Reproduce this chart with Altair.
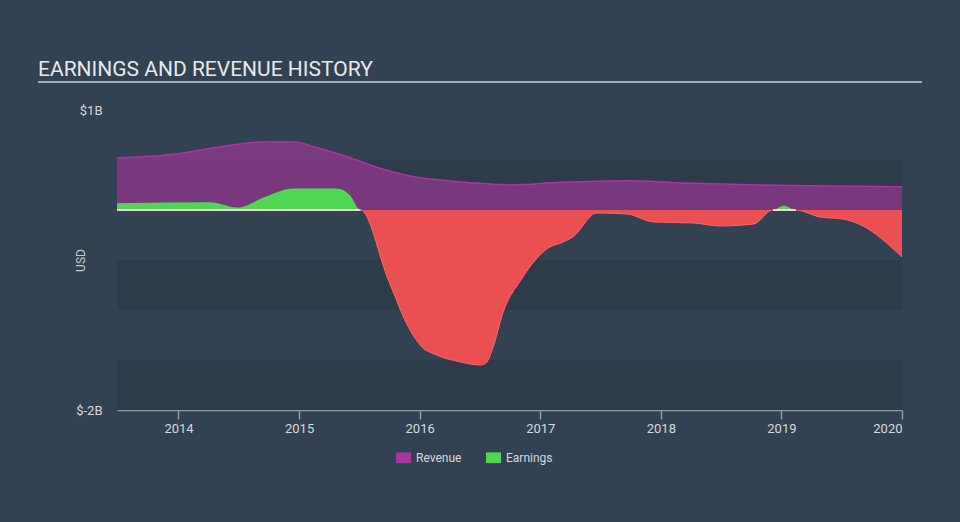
import altair as alt
import pandas as pd

# ---- data (values in $B, x in decimal years) ----
rev_year = [2013.49, 2014.01, 2014.32, 2014.74, 2014.95, 2015.12, 2015.40, 2015.67,
            2015.95, 2016.23, 2016.50, 2016.75, 2017.17, 2017.72, 2018.27, 2018.83,
            2019.38, 2020.0]
rev_val = [0.52, 0.565, 0.627, 0.683, 0.683, 0.633, 0.533, 0.417,
           0.333, 0.293, 0.267, 0.25, 0.277, 0.293, 0.267, 0.25,
           0.24, 0.233]

earn_year = [2013.49, 2014.26, 2014.49, 2014.72, 2014.95, 2015.31, 2015.42, 2015.51,
             2015.74, 2015.92, 2016.02, 2016.14, 2016.34, 2016.50, 2016.55, 2016.61,
             2016.69, 2016.84, 2017.08, 2017.17, 2017.27, 2017.47, 2017.72, 2017.94,
             2018.27, 2018.49, 2018.77, 2018.93, 2019.02, 2019.12, 2019.32, 2019.51,
             2019.66, 2020.0]
earn_val = [0.067, 0.077, 0.025, 0.133, 0.215, 0.215, 0.15, 0.0,
            -0.70, -1.2, -1.37, -1.45, -1.52, -1.55, -1.53, -1.37,
            -1.03, -0.70, -0.37, -0.33, -0.27, -0.03, -0.04, -0.12,
            -0.13, -0.16, -0.14, 0.0, 0.043, 0.0, -0.07, -0.09,
            -0.15, -0.47]

year_ticks = [2014, 2015, 2016, 2017, 2018, 2019, 2020]
y_ticks = [-2, 1]
band_lo = [0.0, -1.0, -2.0]
band_hi = [0.5, -0.5, -1.5]
series_names = ["Revenue", "Earnings"]
series_colors = ["#a8369c", "#4fd653"]

# ---- tables ----
rev_df = pd.DataFrame({"year": rev_year, "value": rev_val, "series": "Revenue"})
earn_df = pd.DataFrame({"year": earn_year, "value": earn_val})
earn_df["pos"] = earn_df["value"].clip(lower=0)
earn_df["neg"] = earn_df["value"].clip(upper=0)
earn_df["series"] = "Earnings"
band_df = pd.DataFrame({"lo": band_lo, "hi": band_hi})

# zero-line segments under positive earnings
segs = []
start = None
for i, v in enumerate(earn_val):
    if v >= 0 and start is None:
        start = earn_year[i]
    if (v < 0 or i == len(earn_val) - 1) and start is not None:
        end = earn_year[i - 1] if v < 0 else earn_year[i]
        segs.append({"x0": start, "x1": end, "z": 0.0})
        start = None
seg_df = pd.DataFrame(segs)

LABEL = "#d5d9de"
xscale = alt.Scale(domain=[rev_year[0], rev_year[-1]], nice=False, zero=False)
yscale = alt.Scale(domain=[-2, 1], nice=False, zero=False)
xaxis = alt.Axis(values=year_ticks, format="d", title=None, grid=False,
                 labelFlush=True, domainColor="#8d99a6", domainWidth=1.5,
                 tickColor="#8d99a6", tickWidth=1.5, tickSize=9, labelPadding=3,
                 labelColor=LABEL, labelFontSize=13, labelFont="Roboto")
yaxis = alt.Axis(values=y_ticks, labelExpr="'$' + datum.value + 'B'", title="USD",
                 grid=False, domain=False, ticks=False, labelPadding=15,
                 labelColor=LABEL, labelFontSize=13, labelFont="Roboto",
                 titleColor="#c3c8ce", titleFontSize=12, titleFontWeight="normal",
                 titleFont="Roboto", titleX=-33, titleY=150, titleAngle=-90,
                 titleAlign="center", titleBaseline="alphabetic")


def X(field):
    return alt.X(field, type="quantitative", scale=xscale, axis=xaxis)


def Y(field):
    return alt.Y(field, type="quantitative", scale=yscale, axis=yaxis)


bands = alt.Chart(band_df).mark_rect(color="#2e3b4a").encode(
    x=alt.value(0), x2=alt.value("width"), y=Y("lo"), y2="hi"
)

red = alt.Chart(earn_df).mark_area(
    interpolate="monotone", color="#ea4f51", opacity=1,
    line={"color": "#ff6464", "strokeWidth": 1},
).encode(x=X("year"), y=Y("neg"), y2=alt.datum(0))

color = alt.Color("series:N", scale=alt.Scale(domain=series_names, range=series_colors),
                  legend=alt.Legend(
                      title=None, orient="none", legendX=279, legendY=340,
                      direction="horizontal", labelColor=LABEL, labelFontSize=12,
                      labelFont="Roboto", symbolType="M-1,-0.72H1V0.72H-1Z",
                      symbolSize=225, symbolStrokeWidth=0, symbolOpacity=1,
                      columnPadding=24, labelOffset=5, padding=0))

revenue = alt.Chart(rev_df).mark_area(
    interpolate="monotone", fillOpacity=0.62,
    line={"color": "#b8379f", "strokeWidth": 1.5},
).encode(x=X("year"), y=Y("value"), y2=alt.datum(0), color=color)

green = alt.Chart(earn_df).mark_area(
    interpolate="monotone", opacity=1,
).encode(x=X("year"), y=Y("pos"), y2=alt.datum(0), color=color)

zero = alt.Chart(seg_df).mark_rule(color="#ffffff", strokeWidth=1.5).encode(
    x=X("x0"), x2="x1", y=Y("z")
)

underline = alt.Chart(pd.DataFrame({"k": [0]})).mark_rule(
    color="#a3abb4", strokeWidth=2
).encode(x=alt.value(-79), x2=alt.value(805), y=alt.value(-28))

chart = alt.layer(bands, red, revenue, green, zero, underline).properties(
    width=785, height=300,
    padding={"left": 117, "top": 110, "right": 58, "bottom": 112},
    autosize="none",
    background="#334252",
    title=alt.TitleParams(
        "EARNINGS AND REVENUE HISTORY", anchor="start", frame="group", dx=-79,
        dy=43, fontSize=21, font="Roboto", fontWeight="normal", color="#e6e9ec",
        baseline="alphabetic", offset=27,
    ),
).configure(font="Roboto").configure_view(stroke="transparent", strokeWidth=0)

chart.save("out.html", embed_options={"renderer": "svg", "actions": False})
